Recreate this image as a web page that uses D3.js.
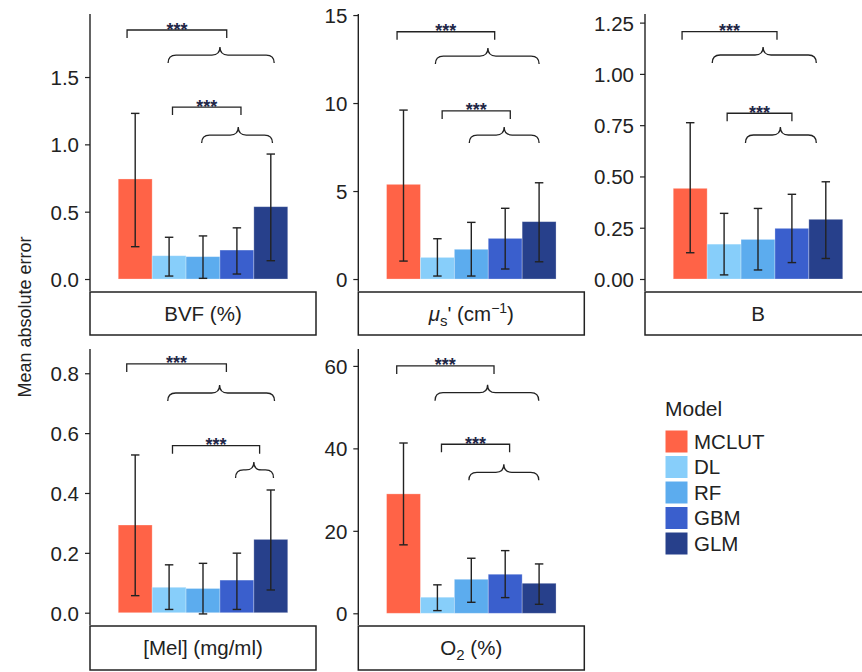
<!DOCTYPE html>
<html><head><meta charset="utf-8">
<script src="https://cdn.jsdelivr.net/npm/d3@7"></script>
<style>
html,body{margin:0;padding:0;background:#fff;}
svg{display:block;font-family:"Liberation Sans",Arial,sans-serif;}
</style></head>
<body>
<svg id="chart" width="862" height="672"></svg>
<script>
// ---- data ----
const models = ["MCLUT", "DL", "RF", "GBM", "GLM"];
const modelColors = ["#FF6347", "#87CEFA", "#5CACEE", "#3A5FCD", "#27408B"];

const meanBVF = [0.743, 0.173, 0.166, 0.215, 0.537];
const lowBVF  = [0.24, 0.022, 0.005, 0.037, 0.136];
const highBVF = [1.23, 0.31, 0.32, 0.38, 0.928];

const meanMus = [5.38, 1.23, 1.69, 2.31, 3.26];
const lowMus  = [1.02, 0.17, 0.17, 0.57, 0.98];
const highMus = [9.6, 2.29, 3.22, 4.02, 5.47];

const meanB = [0.442, 0.17, 0.193, 0.247, 0.291];
const lowB  = [0.128, 0.02, 0.044, 0.08, 0.10];
const highB = [0.762, 0.32, 0.344, 0.413, 0.474];

const meanMel = [0.293, 0.085, 0.081, 0.109, 0.245];
const lowMel  = [0.057, 0.011, -0.004, 0.011, 0.076];
const highMel = [0.527, 0.16, 0.165, 0.199, 0.41];

const meanO2 = [28.96, 3.9, 8.25, 9.47, 7.28];
const lowO2  = [16.6, 0.65, 2.67, 3.8, 2.18];
const highO2 = [41.3, 6.9, 13.35, 15.2, 11.97];

const yDomains = [[-0.089, 1.968], [-0.68, 15.06], [-0.0585, 1.292], [-0.041, 0.881], [-2.84, 64.1]];
const yTicks = [[0, 0.5, 1.0, 1.5], [0, 5, 10, 15], [0, 0.25, 0.5, 0.75, 1.0, 1.25], [0, 0.2, 0.4, 0.6, 0.8], [0, 20, 40, 60]];
const yTickFormats = [".1f", "d", ".2f", ".1f", "d"];

// significance annotations (positions in bar-index units, levels in data units)
const bracketTop = [[-0.24, 2.7], [-0.19, 2.69], [-0.24, 2.56], [-0.25, 2.69], [-0.2, 2.67]];
const braceTop   = [[0.97, 2.5, 4.1], [0.94, 2.49, 4.0], [0.65, 2.15, 3.72], [0.96, 2.49, 4.11], [0.93, 2.48, 3.99]];
const bracketLow = [[1.1, 3.12], [1.14, 3.15], [1.09, 3.0], [1.1, 3.67], [1.12, 3.13]];
const braceLow   = [[1.96, 3.04, 4.05], [1.94, 2.97, 4.0], [1.63, 2.66, 3.72], [2.96, 3.5, 4.08], [1.93, 2.96, 3.99]];
const sigLevels  = [[1.849, 1.663, 1.277, 1.069], [14.05, 12.67, 9.55, 8.18], [1.206, 1.092, 0.808, 0.702], [0.831, 0.734, 0.558, 0.477], [60.0, 53.5, 41.0, 34.2]];
const sigLabel = "***";

const panels = [
  {mean: meanBVF, low: lowBVF, high: highBVF},
  {mean: meanMus, low: lowMus, high: highMus},
  {mean: meanB, low: lowB, high: highB},
  {mean: meanMel, low: lowMel, high: highMel},
  {mean: meanO2, low: lowO2, high: highO2}
];

// ---- layout ----
const svg = d3.select("#chart");
const colX = [90, 358.3, 645];
const panelW = 226;
const rowTop = [14, 349];
const rowBot = [291, 625];
const stripTop = [292, 626];
const stripH = [43, 44];
const ink = "#222";
const barW = 0.18;  // x-units per bar (dodge 0.9 / 5)

function stripLabel(g, i, cx, cy) {
  const t = g.append("text").attr("x", cx).attr("y", cy).attr("text-anchor", "middle")
    .attr("font-size", 20.5).attr("fill", ink);
  if (i === 0) t.text("BVF (%)");
  else if (i === 1) {
    t.append("tspan").attr("font-style", "italic").text("μ");
    t.append("tspan").attr("font-size", 15).attr("dy", 5).text("s");
    t.append("tspan").attr("dy", -5).text("' (cm");
    t.append("tspan").attr("font-size", 14).attr("dy", -8).text("−1");
    t.append("tspan").attr("dy", 8).text(")");
  } else if (i === 2) t.text("B");
  else if (i === 3) t.text("[Mel] (mg/ml)");
  else {
    t.append("tspan").text("O");
    t.append("tspan").attr("font-size", 15).attr("dy", 5).text("2");
    t.append("tspan").attr("dy", -5).text(" (%)");
  }
}

panels.forEach((p, i) => {
  const row = i < 3 ? 0 : 1;
  const col = i < 3 ? i : i - 3;
  const x0 = colX[col];
  const g = svg.append("g");
  const x = d3.scaleLinear().domain([0.4, 1.6]).range([x0, x0 + panelW]);
  const y = d3.scaleLinear().domain(yDomains[i]).range([rowBot[row], rowTop[row]]);
  const cx = k => x(1 + (k - 2) * barW);

  // bars
  g.selectAll("rect.bar").data(models).join("rect")
    .attr("x", (d, k) => cx(k) - (x(barW) - x(0)) / 2)
    .attr("width", x(barW) - x(0))
    .attr("y", (d, k) => y(p.mean[k]))
    .attr("height", (d, k) => y(0) - y(p.mean[k]))
    .attr("fill", (d, k) => modelColors[k])
    .attr("stroke", "#fff").attr("stroke-opacity", 0.35).attr("stroke-width", 0.8);

  // error bars
  const capHalf = (x(barW * 0.25) - x(0)) / 2;
  models.forEach((d, k) => {
    const c = cx(k);
    g.append("line").attr("x1", c).attr("x2", c).attr("y1", y(p.low[k])).attr("y2", y(p.high[k]))
      .attr("stroke", ink).attr("stroke-width", 1.4);
    [p.low[k], p.high[k]].forEach(v => {
      g.append("line").attr("x1", c - capHalf).attr("x2", c + capHalf).attr("y1", y(v)).attr("y2", y(v))
        .attr("stroke", ink).attr("stroke-width", 1.4);
    });
  });

  // y axis
  const fmt = d3.format(yTickFormats[i]);
  const axis = d3.axisLeft(y).tickValues(yTicks[i]).tickFormat(fmt).tickSize(5).tickPadding(6).tickSizeOuter(0);
  const ag = g.append("g").attr("transform", `translate(${x0},0)`).call(axis);
  ag.select(".domain").attr("stroke", ink).attr("stroke-width", 1.4)
    .attr("d", `M0,${rowTop[row]}V${rowBot[row]}`);
  ag.selectAll(".tick line").attr("stroke", ink).attr("stroke-width", 1.2);
  ag.selectAll(".tick text").attr("font-size", 20.5).attr("fill", ink)
    .attr("font-family", '"Liberation Sans",Arial,sans-serif').attr("dy", "0.36em");

  // strip
  g.append("rect").attr("x", x0).attr("y", stripTop[row]).attr("width", panelW).attr("height", stripH[row])
    .attr("fill", "#fff").attr("stroke", ink).attr("stroke-width", 1.5);
  stripLabel(g, i, x0 + panelW / 2, stripTop[row] + stripH[row] / 2 + 7);

  // significance annotations
  const ix = v => x(1 + (v - 2) * barW);
  const drawBracket = (span, lvl) => {
    const yy = y(lvl), a = ix(span[0]), b = ix(span[1]);
    g.append("path").attr("d", `M${a},${yy + 8}V${yy}H${b}V${yy + 8}`)
      .attr("fill", "none").attr("stroke", ink).attr("stroke-width", 1.3);
    g.append("text").attr("x", (a + b) / 2).attr("y", yy + 5.5).attr("text-anchor", "middle")
      .attr("font-size", 18).attr("font-weight", "bold").attr("fill", "#1f2747").text(sigLabel);
  };
  const drawBrace = (span, lvl) => {
    const yy = y(lvl), a = ix(span[0]), m = ix(span[1]), b = ix(span[2]);
    const r = 8;
    const d = `M${a},${yy + r}Q${a},${yy} ${a + r},${yy}L${m - r},${yy}Q${m},${yy} ${m},${yy - r}` +
              `Q${m},${yy} ${m + r},${yy}L${b - r},${yy}Q${b},${yy} ${b},${yy + r}`;
    g.append("path").attr("d", d).attr("fill", "none").attr("stroke", ink).attr("stroke-width", 1.3);
  };
  drawBracket(bracketTop[i], sigLevels[i][0]);
  drawBrace(braceTop[i], sigLevels[i][1]);
  drawBracket(bracketLow[i], sigLevels[i][2]);
  drawBrace(braceLow[i], sigLevels[i][3]);
});

// y axis title
svg.append("text").attr("transform", "translate(31,317) rotate(-90)").attr("text-anchor", "middle")
  .attr("font-size", 18).attr("fill", ink).text("Mean absolute error");

// legend
const lg = svg.append("g");
lg.append("text").attr("x", 665).attr("y", 416).attr("font-size", 21).attr("fill", ink).text("Model");
models.forEach((m, k) => {
  const top = 430 + k * 25.5;
  lg.append("rect").attr("x", 665).attr("y", top).attr("width", 23).attr("height", 23)
    .attr("fill", modelColors[k]).attr("stroke", "#fff").attr("stroke-width", 1);
  lg.append("text").attr("x", 694).attr("y", top + 11.5).attr("dy", "0.36em")
    .attr("font-size", 20.5).attr("fill", ink).text(m);
});
</script>
</body></html>
